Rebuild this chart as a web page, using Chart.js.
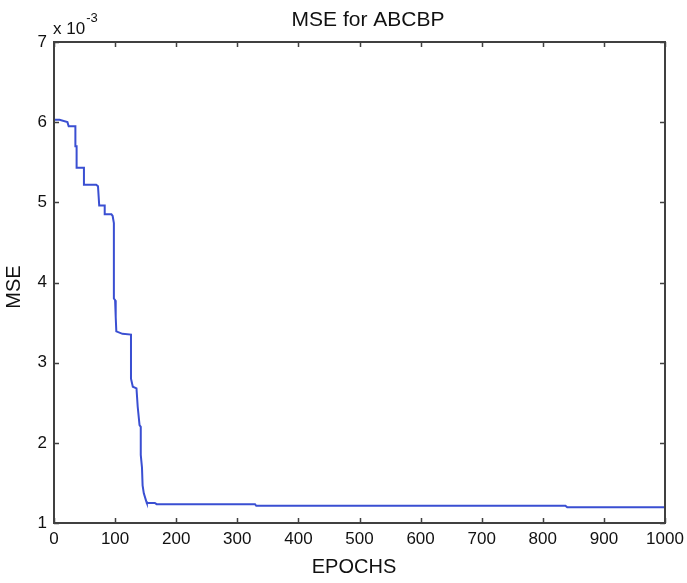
<!DOCTYPE html>
<html>
<head>
<meta charset="utf-8">
<script src="https://cdn.jsdelivr.net/npm/chart.js@4/dist/chart.umd.min.js"></script>
<style>
  html, body { margin: 0; padding: 0; background: #ffffff; }
  #wrap { width: 687px; height: 583px; position: relative; }
</style>
</head>
<body>
<div id="wrap"><canvas id="c" width="687" height="583"></canvas></div>
<script>
// ---- data (MSE in units of 1e-3) ----
const epochs = [0, 9, 22, 24, 35, 35, 37, 37, 49, 49,
                69, 72, 74, 83, 83, 94, 96, 98, 98, 100,
                101, 102, 112, 126, 126, 129, 135, 137, 140, 142,
                142, 144, 145, 147, 151, 152, 165, 168, 329, 331,
                837, 840, 1000];
const mse = [6.03, 6.03, 6.00, 5.95, 5.95, 5.70, 5.70, 5.43, 5.43, 5.22,
             5.22, 5.20, 4.96, 4.96, 4.85, 4.85, 4.83, 4.74, 3.80, 3.78,
             3.57, 3.39, 3.36, 3.35, 2.80, 2.70, 2.68, 2.45, 2.22, 2.20,
             1.85, 1.69, 1.47, 1.37, 1.27, 1.25, 1.25, 1.235, 1.235, 1.215,
             1.215, 1.195, 1.195];
const xTicks = [0, 100, 200, 300, 400, 500, 600, 700, 800, 900, 1000];
const yTicks = [1, 2, 3, 4, 5, 6, 7];
const chartTitle = "MSE for ABCBP";
const xTitle = "EPOCHS";
const yTitle = "MSE";
const exponentBase = "x 10";
const exponentPow = "-3";

const FONT = "'Liberation Sans', Arial, Helvetica, sans-serif";
const AXIS_COLOR = "#404040";

const points = epochs.map((e, i) => ({ x: e, y: mse[i] }));

const framePlugin = {
  id: 'matlabFrame',
  afterDraw(chart) {
    const ctx = chart.ctx;
    const a = chart.chartArea;
    const xs = chart.scales.x, ys = chart.scales.y;
    ctx.save();
    ctx.strokeStyle = AXIS_COLOR;
    ctx.lineWidth = 2;
    ctx.strokeRect(a.left, a.top, a.right - a.left, a.bottom - a.top);
    const tl = 5;
    ctx.lineWidth = 1.5;
    ctx.beginPath();
    xTicks.forEach(v => {
      const px = Math.round(xs.getPixelForValue(v)) + 0.5;
      ctx.moveTo(px, a.bottom); ctx.lineTo(px, a.bottom - tl);
      ctx.moveTo(px, a.top); ctx.lineTo(px, a.top + tl);
    });
    yTicks.forEach(v => {
      const py = Math.round(ys.getPixelForValue(v)) + 0.5;
      ctx.moveTo(a.left, py); ctx.lineTo(a.left + tl, py);
      ctx.moveTo(a.right, py); ctx.lineTo(a.right - tl, py);
    });
    ctx.stroke();

    ctx.fillStyle = "#111111";
    ctx.textBaseline = "middle";
    ctx.textAlign = "center";
    ctx.font = "21px " + FONT;
    ctx.fillText(chartTitle, 368, 20);
    ctx.font = "20px " + FONT;
    ctx.fillText(xTitle, 354, 567);
    ctx.save();
    ctx.translate(14, 287);
    ctx.rotate(-Math.PI / 2);
    ctx.fillText(yTitle, 0, 0);
    ctx.restore();

    ctx.textAlign = "left";
    ctx.textBaseline = "alphabetic";
    ctx.font = "17px " + FONT;
    ctx.fillText(exponentBase, 53, 34);
    const w = ctx.measureText(exponentBase).width;
    ctx.font = "13px " + FONT;
    ctx.fillText(exponentPow, 53 + w + 1, 22);
    ctx.restore();
  }
};

new Chart(document.getElementById('c'), {
  type: 'line',
  data: {
    datasets: [{
      data: points,
      borderColor: '#3a4fd2',
      borderWidth: 2,
      pointRadius: 0,
      fill: false,
      tension: 0
    }]
  },
  options: {
    responsive: false,
    animation: false,
    events: [],
    layout: { padding: { left: 0, top: 42, right: 22, bottom: 0 } },
    plugins: { legend: { display: false }, title: { display: false }, tooltip: { enabled: false } },
    scales: {
      x: {
        type: 'linear',
        min: 0, max: 1000,
        afterBuildTicks: s => { s.ticks = xTicks.map(v => ({ value: v })); },
        afterFit: s => { s.height = 60; s.paddingLeft = 0; s.paddingRight = 0; },
        grid: { display: false, drawTicks: false },
        border: { display: false },
        ticks: { color: '#111111', font: { family: FONT, size: 17 }, padding: 6, maxRotation: 0, autoSkip: false,
                 callback: v => String(v) }
      },
      y: {
        type: 'linear',
        min: 1, max: 7,
        afterBuildTicks: s => { s.ticks = yTicks.map(v => ({ value: v })); },
        afterFit: s => { s.width = 54; s.paddingTop = 0; s.paddingBottom = 0; },
        grid: { display: false, drawTicks: false },
        border: { display: false },
        ticks: { color: '#111111', font: { family: FONT, size: 17 }, padding: 7, callback: v => String(v) }
      }
    }
  },
  plugins: [framePlugin]
});
</script>
</body>
</html>
